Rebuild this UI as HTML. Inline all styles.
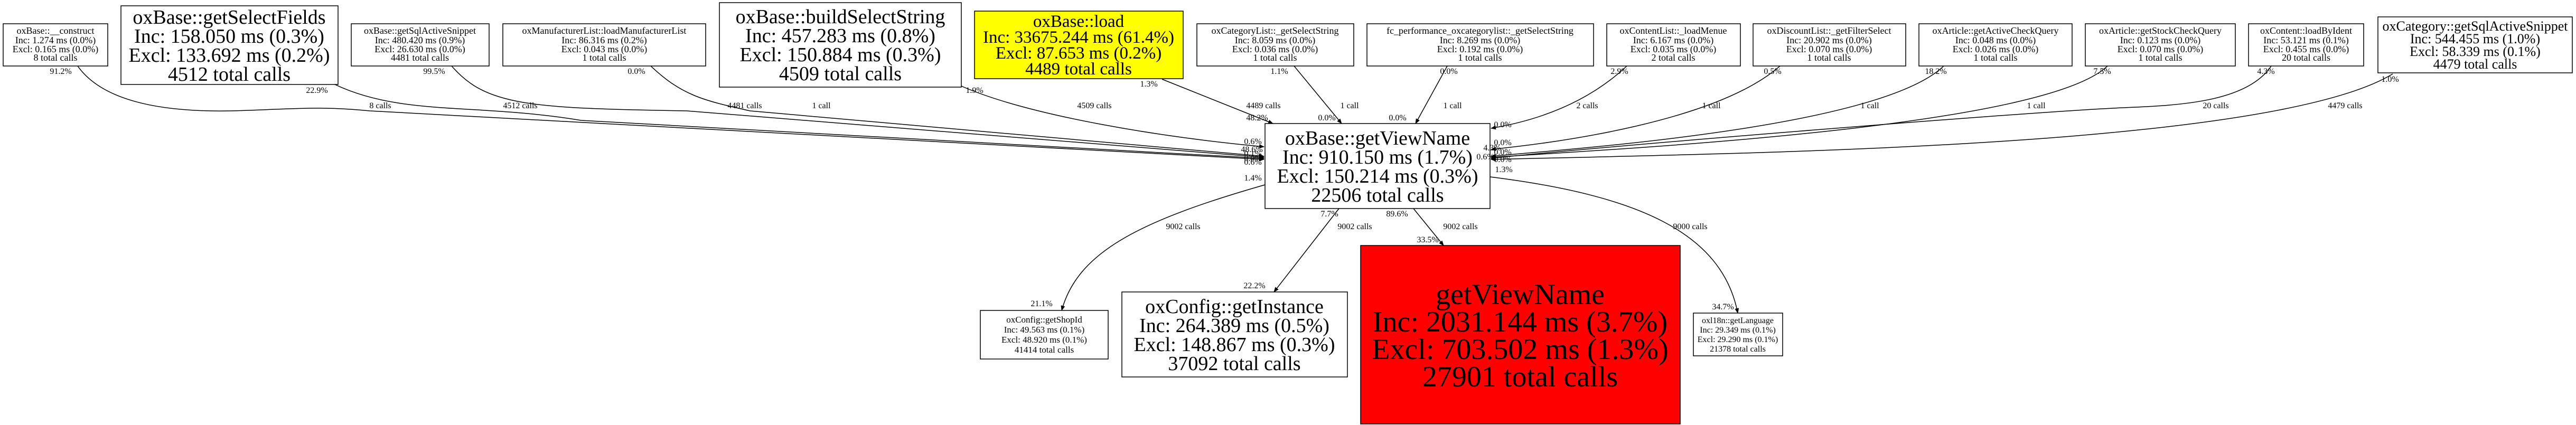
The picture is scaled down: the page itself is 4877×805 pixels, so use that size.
<!DOCTYPE html>
<html><head><meta charset="utf-8"><style>
html,body{margin:0;padding:0;background:#fff;}
svg{display:block;}
text{font-family:"Liberation Serif",serif;fill:#000;}
.s{font-size:18px;}
.e{font-size:16px;}
</style></head><body>
<svg width="4877" height="805" viewBox="0 0 4877 805" xmlns="http://www.w3.org/2000/svg">
<defs><marker id="a" markerWidth="10" markerHeight="8" refX="9" refY="4" orient="auto" markerUnits="userSpaceOnUse"><path d="M0,0 L10,4 L0,8 z" fill="#000"/></marker></defs>
<g fill="none" stroke="#000" stroke-width="1.5" marker-end="url(#a)">
<path d="M147,125 C200,200 330,212 437,210 C550,207 600,200 700,210 L2393,302"/>
<path d="M634,160 C760,220 900,195 1100,228 L2393,300"/>
<path d="M855,125 C920,200 1000,205 1300,210 L2393,298"/>
<path d="M1232,125 C1290,180 1330,190 1420,210 L2393,296"/>
<path d="M1820,163 C1950,220 2200,260 2393,278"/>
<path d="M2200,150 L2410,234"/>
<path d="M2450,125 L2540,234"/>
<path d="M2740,125 L2680,234"/>
<path d="M3080,125 C3000,200 2900,230 2823,243"/>
<path d="M3370,125 C3250,230 2950,270 2823,283"/>
<path d="M3680,125 C3560,240 3000,280 2823,296"/>
<path d="M3990,125 C3870,240 3100,280 2823,298"/>
<path d="M4300,125 C4250,200 4100,200 4000,205 C3800,215 3000,280 2823,300"/>
<path d="M4530,140 C4300,280 3300,290 2823,302"/>
<path d="M2395,350 C2150,420 2040,480 2010,588"/>
<path d="M2535,395 L2412,553"/>
<path d="M2676,395 L2733,465"/>
<path d="M2821,335 C3100,370 3260,440 3290,593"/>
</g>
<g stroke="#000" stroke-width="1.5" fill="#fff">
<rect x="6" y="45" width="198" height="80"/>
<rect x="229" y="11" width="411" height="149"/>
<rect x="665" y="45" width="261" height="80"/>
<rect x="952" y="45" width="384" height="80"/>
<rect x="1362" y="5" width="458" height="160"/>
<rect x="1845" y="21" width="395" height="128" fill="#ff0"/>
<rect x="2266" y="45" width="297" height="80"/>
<rect x="2588" y="45" width="429" height="80"/>
<rect x="3042" y="45" width="253" height="80"/>
<rect x="3319" y="45" width="289" height="80"/>
<rect x="3633" y="45" width="290" height="80"/>
<rect x="3948" y="45" width="284" height="80"/>
<rect x="4257" y="45" width="218" height="80"/>
<rect x="4502" y="32" width="368" height="106"/>
<rect x="2395" y="234" width="426" height="161"/>
<rect x="1856" y="588" width="242" height="92"/>
<rect x="2124" y="553" width="427" height="161"/>
<rect x="2576" y="465" width="605" height="338" fill="#f00"/>
<rect x="3206" y="593" width="169" height="81"/>
</g>
<g text-anchor="middle">
<g class="s">
<text x="105" y="64">oxBase::__construct</text><text x="105" y="82">Inc: 1.274 ms (0.0%)</text><text x="105" y="99">Excl: 0.165 ms (0.0%)</text><text x="105" y="115">8 total calls</text>
<text x="795" y="64">oxBase::getSqlActiveSnippet</text><text x="795" y="82">Inc: 480.420 ms (0.9%)</text><text x="795" y="99">Excl: 26.630 ms (0.0%)</text><text x="795" y="115">4481 total calls</text>
<text x="1144" y="64">oxManufacturerList::loadManufacturerList</text><text x="1144" y="82">Inc: 86.316 ms (0.2%)</text><text x="1144" y="99">Excl: 0.043 ms (0.0%)</text><text x="1144" y="115">1 total calls</text>
<text x="2414" y="64">oxCategoryList::_getSelectString</text><text x="2414" y="82">Inc: 8.059 ms (0.0%)</text><text x="2414" y="99">Excl: 0.036 ms (0.0%)</text><text x="2414" y="115">1 total calls</text>
<text x="2802" y="64">fc_performance_oxcategorylist::_getSelectString</text><text x="2802" y="82">Inc: 8.269 ms (0.0%)</text><text x="2802" y="99">Excl: 0.192 ms (0.0%)</text><text x="2802" y="115">1 total calls</text>
<text x="3168" y="64">oxContentList::_loadMenue</text><text x="3168" y="82">Inc: 6.167 ms (0.0%)</text><text x="3168" y="99">Excl: 0.035 ms (0.0%)</text><text x="3168" y="115">2 total calls</text>
<text x="3463" y="64">oxDiscountList::_getFilterSelect</text><text x="3463" y="82">Inc: 20.902 ms (0.0%)</text><text x="3463" y="99">Excl: 0.070 ms (0.0%)</text><text x="3463" y="115">1 total calls</text>
<text x="3778" y="64">oxArticle::getActiveCheckQuery</text><text x="3778" y="82">Inc: 0.048 ms (0.0%)</text><text x="3778" y="99">Excl: 0.026 ms (0.0%)</text><text x="3778" y="115">1 total calls</text>
<text x="4090" y="64">oxArticle::getStockCheckQuery</text><text x="4090" y="82">Inc: 0.123 ms (0.0%)</text><text x="4090" y="99">Excl: 0.070 ms (0.0%)</text><text x="4090" y="115">1 total calls</text>
<text x="4366" y="64">oxContent::loadByIdent</text><text x="4366" y="82">Inc: 53.121 ms (0.1%)</text><text x="4366" y="99">Excl: 0.455 ms (0.0%)</text><text x="4366" y="115">20 total calls</text>
</g>
<g style="font-size:38px">
<text x="434" y="45">oxBase::getSelectFields</text><text x="434" y="81">Inc: 158.050 ms (0.3%)</text><text x="434" y="117">Excl: 133.692 ms (0.2%)</text><text x="434" y="153">4512 total calls</text>
<text x="1591" y="44">oxBase::buildSelectString</text><text x="1591" y="80">Inc: 457.283 ms (0.8%)</text><text x="1591" y="116">Excl: 150.884 ms (0.3%)</text><text x="1591" y="152">4509 total calls</text>
<text x="2608" y="274">oxBase::getViewName</text><text x="2608" y="310">Inc: 910.150 ms (1.7%)</text><text x="2608" y="346">Excl: 150.214 ms (0.3%)</text><text x="2608" y="382">22506 total calls</text>
<text x="2337" y="593">oxConfig::getInstance</text><text x="2337" y="629">Inc: 264.389 ms (0.5%)</text><text x="2337" y="665">Excl: 148.867 ms (0.3%)</text><text x="2337" y="701">37092 total calls</text>
</g>
<g style="font-size:33px">
<text x="2042" y="51">oxBase::load</text><text x="2042" y="81">Inc: 33675.244 ms (61.4%)</text><text x="2042" y="111">Excl: 87.653 ms (0.2%)</text><text x="2042" y="141">4489 total calls</text>
</g>
<g style="font-size:26px">
<text x="4686" y="58">oxCategory::getSqlActiveSnippet</text><text x="4686" y="82">Inc: 544.455 ms (1.0%)</text><text x="4686" y="106">Excl: 58.339 ms (0.1%)</text><text x="4686" y="130">4479 total calls</text>
</g>
<g style="font-size:56px">
<text x="2878" y="576">getViewName</text><text x="2878" y="628">Inc: 2031.144 ms (3.7%)</text><text x="2878" y="680">Excl: 703.502 ms (1.3%)</text><text x="2878" y="732">27901 total calls</text>
</g>
<g style="font-size:17px">
<text x="1977" y="611">oxConfig::getShopId</text><text x="1977" y="630">Inc: 49.563 ms (0.1%)</text><text x="1977" y="649">Excl: 48.920 ms (0.1%)</text><text x="1977" y="668">41414 total calls</text>
</g>
<g style="font-size:16px">
<text x="3290" y="612">oxl18n::getLanguage</text><text x="3290" y="630">Inc: 29.349 ms (0.1%)</text><text x="3290" y="648">Excl: 29.290 ms (0.1%)</text><text x="3290" y="666">21378 total calls</text>
</g>
<g class="e">
<text x="115" y="140">91.2%</text><text x="720" y="205">8 calls</text>
<text x="600" y="176">22.9%</text><text x="985" y="205">4512 calls</text>
<text x="822" y="140">99.5%</text><text x="1410" y="205">4481 calls</text>
<text x="1205" y="140">0.0%</text><text x="1555" y="205">1 call</text>
<text x="1845" y="176">1.9%</text><text x="2072" y="205">4509 calls</text>
<text x="2175" y="164">1.3%</text><text x="2392" y="205">4489 calls</text><text x="2380" y="228">48.2%</text>
<text x="2422" y="140">1.1%</text><text x="2555" y="205">1 call</text><text x="2512" y="228">0.0%</text>
<text x="2743" y="140">0.0%</text><text x="2750" y="205">1 call</text><text x="2646" y="228">0.0%</text>
<text x="3066" y="140">2.9%</text><text x="3005" y="205">2 calls</text><text x="2845" y="241">0.0%</text>
<text x="3356" y="140">0.5%</text><text x="3240" y="205">1 call</text><text x="2845" y="275">0.0%</text>
<text x="3665" y="140">18.2%</text><text x="3540" y="205">1 call</text><text x="2845" y="293">0.0%</text>
<text x="3980" y="140">7.5%</text><text x="3855" y="205">1 call</text><text x="2845" y="307">0.0%</text>
<text x="4290" y="140">4.3%</text><text x="4195" y="205">20 calls</text><text x="2825" y="285">4.3%</text>
<text x="4525" y="155">1.0%</text><text x="4440" y="205">4479 calls</text><text x="2812" y="302">0.6%</text>
<text x="2372" y="273">0.6%</text><text x="2370" y="288">48.6%</text><text x="2372" y="296">0.1%</text><text x="2372" y="305">0.0%</text><text x="2372" y="312">0.6%</text>
<text x="2372" y="342">1.4%</text><text x="2240" y="434">9002 calls</text><text x="1972" y="580">21.1%</text>
<text x="2517" y="410">7.7%</text><text x="2565" y="434">9002 calls</text><text x="2375" y="546">22.2%</text>
<text x="2645" y="410">89.6%</text><text x="2765" y="434">9002 calls</text><text x="2703" y="459">33.5%</text>
<text x="2847" y="326">1.3%</text><text x="3200" y="434">9000 calls</text><text x="3262" y="586">34.7%</text>
</g>
</g>
</svg>
</body></html>
